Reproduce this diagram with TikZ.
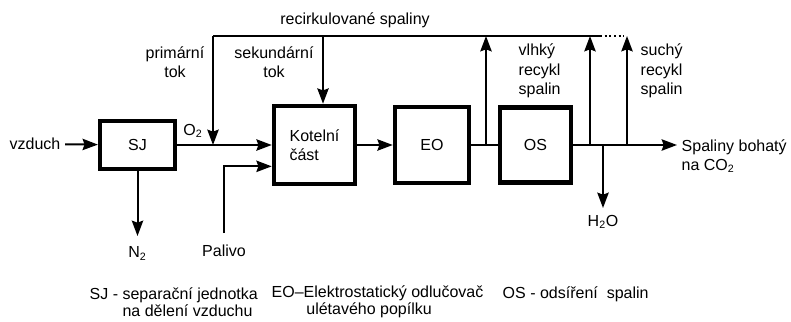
\documentclass[tikz,border=0pt]{standalone}
\usepackage{fontspec}
\setmainfont{Liberation Sans}
\usepackage{tikz}
\usetikzlibrary{arrows.meta,% filled arrow heads
positioning}
\tikzset{every node/.style={font=\fontsize{12}{14.5}\selectfont}}
\tikzset{unit/.style={draw, line width=3.4pt, inner sep=0pt},
  flow/.style={line width=1.5pt},
  arr/.style={flow, -{Stealth[length=11.5pt,width=8.5pt,inset=1.5pt]}}}

\begin{document}
\begin{tikzpicture}[x=0.75pt, y=-0.75pt]
  \useasboundingbox (0,0) rectangle (791,321);
  % units
  \node[unit, minimum width=56pt, minimum height=36pt] (sj) at (137.5,145) {SJ};
  \node[unit, minimum width=60.75pt, minimum height=58.5pt, align=left] (kotel) at (314.5,145) {Kotelní\\část};
  \node[unit, minimum width=55.5pt, minimum height=57pt] (eo) at (432,145) {EO};
  \node[unit, minimum width=53.25pt, minimum height=56.25pt] (os) at (535.5,145) {OS};
  % labels
  \node (air) at (35,144) {vzduch};
  \node (o2) at (193,131) {O\textsubscript{2}};
  \node[anchor=north, inner ysep=8pt] (n2) at (137.5,236) {N\textsubscript{2}};
  \node[anchor=north, inner ysep=9pt] (fuel) at (224,233) {Palivo};
  \node[anchor=north, inner ysep=5pt] (h2o) at (603,208) {H\textsubscript{2}O};
  \node[anchor=west, align=left] (out) at (677,156) {Spaliny bohatý\\na CO\textsubscript{2}};
  \node (recirc) at (355,20) {recirkulované spaliny};
  \node[align=center] (prim) at (175,62) {primární\\tok};
  \node[align=center] (sec) at (274,62) {sekundární\\tok};
  \node[anchor=west, align=left] (wet) at (514,71) {vlhký\\recykl\\spalin};
  \node[anchor=west, align=left] (dry) at (636,71) {suchý\\recykl\\spalin};
  % legend
  \node[anchor=west, align=left] (lsj) at (85,302) {SJ - separační jednotka\\[-2pt]\phantom{SJ - }na dělení vzduchu};
  \node[anchor=west, align=left] (leo) at (267,302) {EO–Elektrostatický odlučovač\\[-2pt]\phantom{EO–}\,ulétavého popílku};
  \node[anchor=west] (los) at (498,294) {OS - odsíření\ \ spalin};
  % branch points
  \coordinate (ptop) at (213,36);
  \coordinate (stop) at (323,36);
  \coordinate (wtop) at (486,36);  \coordinate (wbot) at (486,145);
  \coordinate (w2top) at (590,36); \coordinate (w2bot) at (590,145);
  \coordinate (dtop) at (627,36);  \coordinate (dbot) at (627,145);
  \coordinate (solidend) at (600,36); \coordinate (dotend) at (624,36);
  \coordinate (drain) at (603,145);
  % flows
  \draw[arr] (air) -- (sj);
  \draw[arr] (sj) -- (kotel);
  \draw[arr] (sj) -- (n2);
  \draw[arr] (fuel) |- ([yshift=-16pt]kotel.west);
  \draw[arr] (kotel) -- (eo);
  \draw[flow] (eo) -- (os);
  \draw[arr] (os) -- (os -| out.west);
  \draw[arr] (drain) -- (h2o);
  \draw[flow] (ptop) -- (solidend);
  \draw[flow, dotted] (solidend) -- (dotend);
  \draw[arr] (ptop) -- (ptop |- sj);
  \draw[arr] (stop) -- (stop |- kotel.north);
  \foreach \b/\t in {wbot/wtop, w2bot/w2top, dbot/dtop} \draw[arr] (\b) -- (\t);
\end{tikzpicture}
\end{document}
